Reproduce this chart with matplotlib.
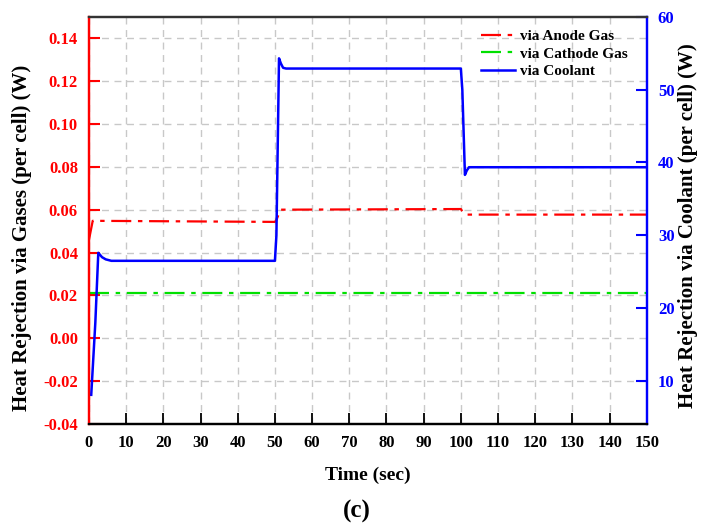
import matplotlib.pyplot as plt
from matplotlib.lines import Line2D

plt.rcParams["font.family"] = ["Liberation Serif", "DejaVu Serif"]
plt.rcParams["font.weight"] = "bold"

# ── Data ──────────────────────────────────────────────────────────────────────
anode_t = [0, 1.0, 50, 50.4, 51.5, 100, 100.5, 101.5, 150]
anode_w = [0.046, 0.0548, 0.0543, 0.0552, 0.0600, 0.0603, 0.0590, 0.0577, 0.0577]

cathode_t = [0, 150]
cathode_w = [0.021, 0.021]

coolant_t = [0.6, 1.7, 2.5, 3.5, 4.5, 6, 50, 50.4, 51.1, 51.6, 52.2, 53,
             100, 100.4, 101.1, 101.6, 102.2, 150]
coolant_w = [8.1, 18.0, 27.6, 27.0, 26.7, 26.5, 26.5, 30.0, 54.3, 53.6,
             53.0, 52.9, 52.9, 50.0, 38.3, 38.9, 39.35, 39.35]

x_ticks = list(range(0, 151, 10))
left_ticks = [-0.04, -0.02, 0.00, 0.02, 0.04, 0.06, 0.08, 0.10, 0.12, 0.14]
right_ticks = [10, 20, 30, 40, 50, 60]

RED = "#ff0000"
GREEN = "#00e000"
BLUE = "#0000ff"
DASHDOT = (0, (9, 3, 2, 3))

fig = plt.figure(figsize=(7.03, 5.26), dpi=100)
ax = fig.add_axes([0.1266, 0.194, 0.7934, 0.774])
ax2 = ax.twinx()

ax.plot(anode_t, anode_w, color=RED, lw=1.6, ls=DASHDOT)
ax.plot(cathode_t, cathode_w, color=GREEN, lw=1.6, ls=DASHDOT)
ax2.plot(coolant_t, coolant_w, color=BLUE, lw=1.8)

ax.set_xlim(0, 150)
ax.set_ylim(-0.04, 0.15)
ax2.set_ylim(4.1, 60)

ax.set_xticks(x_ticks)
ax.set_yticks(left_ticks)
ax.set_yticklabels([f"{v:.2f}" for v in left_ticks])
ax2.set_yticks(right_ticks)

ax.grid(True, color="#c8c8c8", ls=(0, (5, 4)), lw=1.0)
ax.set_axisbelow(True)

ax.tick_params(axis="x", direction="in", length=8, width=1.3, colors="black",
               labelsize=12, pad=8)
ax.tick_params(axis="y", direction="in", length=8, width=1.5, colors=RED,
               labelsize=12, pad=8)
ax2.tick_params(axis="y", direction="in", length=8, width=1.5, colors=BLUE,
                labelsize=12, pad=8)

for a in (ax, ax2):
    for s in a.spines.values():
        s.set_linewidth(1.6)
    a.spines["left"].set_color(RED)
    a.spines["right"].set_color(BLUE)
    a.spines["top"].set_color("#333333")
    a.spines["bottom"].set_color("black")

ax.set_xlabel("Time (sec)", fontsize=14, fontweight="bold")
ax.xaxis.set_label_coords(0.5, -0.105)
ax.set_ylabel("Heat Rejection via Gases (per cell) (W)", fontsize=15,
              fontweight="bold", color="black")
ax.yaxis.set_label_coords(-0.103, 0.457)
ax2.set_ylabel("Heat Rejection via Coolant (per cell) (W)", fontsize=15,
               fontweight="bold", color="black")
ax2.yaxis.set_label_coords(1.056, 0.486)

handles = [
    Line2D([], [], color=RED, lw=1.6, ls=DASHDOT),
    Line2D([], [], color=GREEN, lw=1.6, ls=DASHDOT),
    Line2D([], [], color=BLUE, lw=1.8),
]
labels = ["via Anode Gas", "via Cathode Gas", "via Coolant"]
ax2.legend(handles, labels, loc="upper right", bbox_to_anchor=(0.99, 1.003),
           frameon=False, fontsize=11, handlelength=2.2, handletextpad=0.3,
           labelspacing=0.25)

fig.text(0.508, 0.027, "(c)", ha="center", va="center", fontsize=18,
         fontweight="bold")

fig.savefig("out.png", dpi=100)
